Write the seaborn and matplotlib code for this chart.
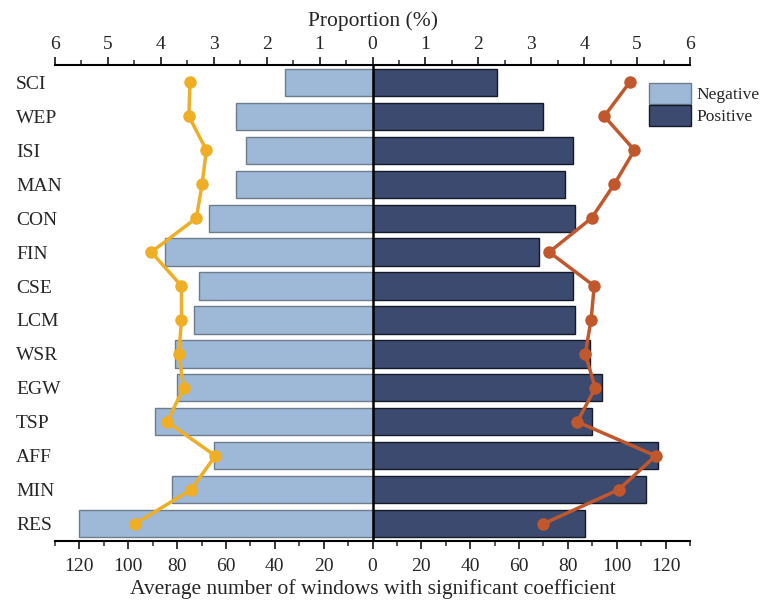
import numpy as np
import pandas as pd
import matplotlib
matplotlib.use("Agg")
import matplotlib.pyplot as plt
from matplotlib.ticker import MultipleLocator, FuncFormatter
import seaborn as sns

categories = ["SCI", "WEP", "ISI", "MAN", "CON", "FIN", "CSE", "LCM", "WSR", "EGW", "TSP", "AFF", "MIN", "RES"]
negative_windows = [36, 56, 52, 56, 67, 85, 71, 73, 81, 80, 89, 65, 82, 120]
positive_windows = [51, 70, 82, 79, 83, 68, 82, 83, 89, 94, 90, 117, 112, 87]
negative_prop = [3.45, 3.47, 3.14, 3.22, 3.33, 4.18, 3.61, 3.61, 3.66, 3.57, 3.88, 2.97, 3.43, 4.48]
positive_prop = [4.86, 4.38, 4.95, 4.57, 4.14, 3.34, 4.19, 4.13, 4.02, 4.21, 3.87, 5.35, 4.65, 3.23]

sns.set_style("white")
plt.rcParams["font.family"] = ["Liberation Serif", "DejaVu Serif"]

df = pd.DataFrame({
    "cat": categories,
    "neg": -np.array(negative_windows, dtype=float),
    "pos": np.array(positive_windows, dtype=float),
    "neg_prop": -np.array(negative_prop),
    "pos_prop": np.array(positive_prop),
    "ypos": np.arange(len(categories)),
})

fig = plt.figure(figsize=(7.62, 6.0), dpi=100)
ax = fig.add_axes([55/762, 1-540.7/600, (690-55)/762, (540.7-65.3)/600])

light = "#9db9d7"
dark = "#3b4a6e"
sns.barplot(data=df, x="neg", y="cat", orient="h", color=light, saturation=1,
            edgecolor="#6f7c8c", linewidth=1.0, width=0.8, ax=ax)
sns.barplot(data=df, x="pos", y="cat", orient="h", color=dark, saturation=1,
            edgecolor="#151a28", linewidth=1.0, width=0.8, ax=ax)
if ax.get_legend() is not None:
    ax.get_legend().remove()

ax.axvline(0, color="black", lw=1.8, zorder=5)
ax.set_xlim(-130, 130)
ax.set_ylim(13.5, -0.5)
ax.xaxis.set_major_locator(MultipleLocator(20))
ax.xaxis.set_minor_locator(MultipleLocator(10))
ax.xaxis.set_major_formatter(FuncFormatter(lambda v, p: f"{abs(v):.0f}"))
ax.tick_params(axis="x", which="major", direction="out", length=6, width=1.3,
               labelsize=14, pad=6.5, bottom=True)
ax.tick_params(axis="x", which="minor", direction="out", length=3.5, width=1.1, bottom=True)
ax.set_ylabel("")
ax.set_xlabel("Average number of windows with significant coefficient", fontsize=15.5, labelpad=3)
for s in ["left", "right", "top"]:
    ax.spines[s].set_visible(False)
ax.spines["bottom"].set_linewidth(1.5)
ax.spines["bottom"].set_color("black")

ax2 = ax.twiny()
sns.lineplot(data=df, x="neg_prop", y="ypos", sort=False, orient="y", color="#eeae25",
             lw=2.5, marker="o", markersize=9, markeredgewidth=0, ax=ax2)
sns.lineplot(data=df, x="pos_prop", y="ypos", sort=False, orient="y", color="#c0572d",
             lw=2.5, marker="o", markersize=9, markeredgewidth=0, ax=ax2)
ax2.set_xlim(-6, 6)
ax2.xaxis.set_major_locator(MultipleLocator(1))
ax2.xaxis.set_minor_locator(MultipleLocator(0.5))
ax2.xaxis.set_major_formatter(FuncFormatter(lambda v, p: f"{abs(v):.0f}"))
ax2.tick_params(axis="x", which="major", direction="out", length=6, width=1.3,
                labelsize=14, pad=3, top=True)
ax2.tick_params(axis="x", which="minor", direction="out", length=3.5, width=1.1, top=True)
ax2.set_xlabel("Proportion (%)", fontsize=15.5, labelpad=7)
ax2.set_ylabel("")
for s in ["left", "right", "bottom"]:
    ax2.spines[s].set_visible(False)
ax2.spines["top"].set_linewidth(1.5)
ax2.spines["top"].set_color("black")

# category labels on the shared y axis
ax.set_yticks(np.arange(len(categories)))
ax.set_yticklabels(categories)
ax.set_ylim(13.5, -0.5)
ax.yaxis.set_visible(True)
ax.tick_params(axis="y", left=True, length=0, pad=28, labelsize=14, labelleft=True)
for lab in ax.get_yticklabels():
    lab.set_horizontalalignment("left")

handles = [ax.containers[0].patches[0], ax.containers[1].patches[0]]
leg = fig.legend(handles, ["Negative", "Positive"], loc="upper left",
                 bbox_to_anchor=(649/762, 1-83/600), bbox_transform=fig.transFigure,
                 frameon=False, fontsize=12.5, handlelength=2.4, handleheight=1.45,
                 handletextpad=0.35, labelspacing=0.1, borderpad=0, borderaxespad=0)

fig.savefig("out.png", dpi=100)
